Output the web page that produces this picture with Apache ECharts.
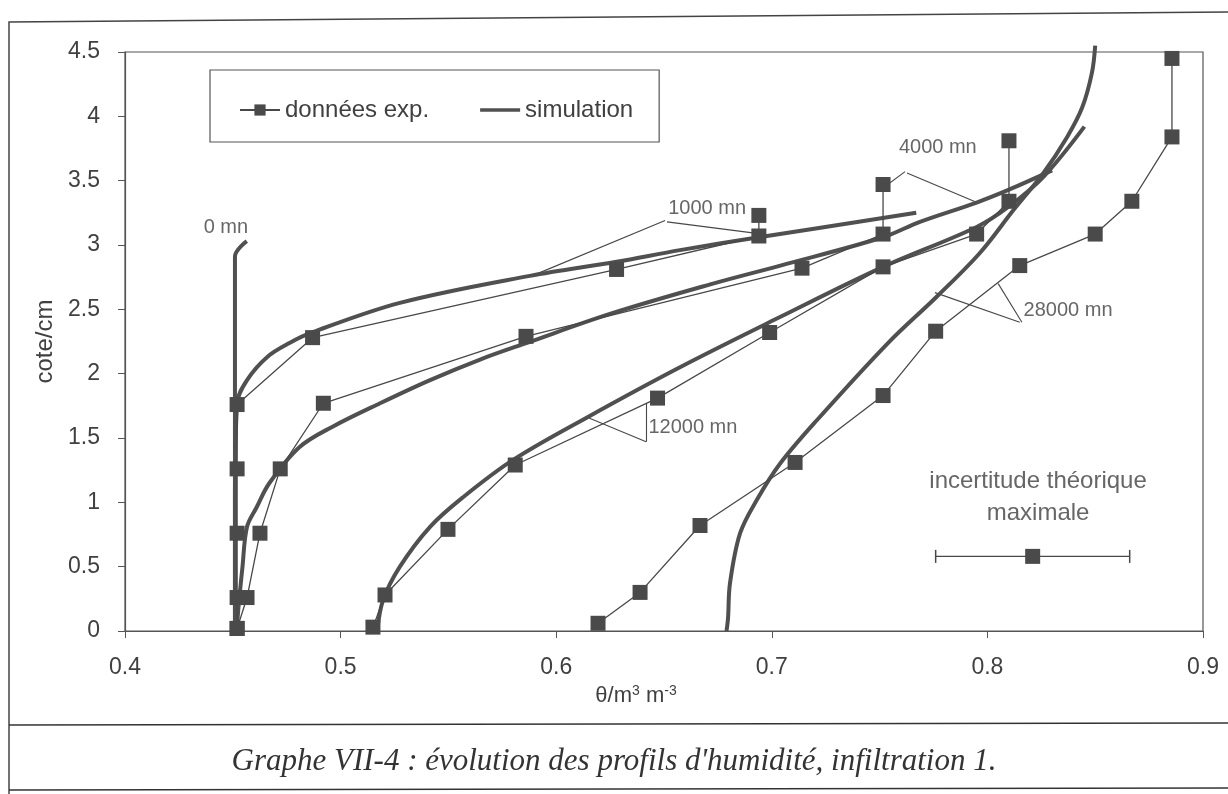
<!DOCTYPE html>
<html>
<head>
<meta charset="utf-8">
<script src="https://cdn.jsdelivr.net/npm/echarts@6/dist/echarts.min.js"></script>
<style>
  html, body { margin: 0; padding: 0; background: #fff; }
  #main { width: 1228px; height: 794px; }
</style>
</head>
<body>
<div id="main"></div>
<script>
// valeurs (theta en m3/m3, cote en cm)
var xTicks = [0.4, 0.5, 0.6, 0.7, 0.8, 0.9];
var yTicks = [0, 0.5, 1, 1.5, 2, 2.5, 3, 3.5, 4, 4.5];

// données expérimentales
var exp1000X = [0.452, 0.452, 0.452, 0.452, 0.452, 0.487, 0.628, 0.694, 0.694];
var exp1000Y = [0.02, 0.26, 0.76, 1.26, 1.76, 2.28, 2.81, 3.07, 3.23];
var exp4000X = [0.452, 0.4566, 0.4626, 0.472, 0.492, 0.586, 0.714, 0.7516, 0.7516];
var exp4000Y = [0.02, 0.26, 0.76, 1.26, 1.77, 2.29, 2.82, 3.085, 3.47];
var exp12000X = [0.515, 0.5206, 0.5498, 0.581, 0.647, 0.699, 0.7516, 0.795, 0.810, 0.810];
var exp12000Y = [0.03, 0.28, 0.79, 1.29, 1.81, 2.32, 2.83, 3.085, 3.34, 3.81];
var exp28000X = [0.6194, 0.6389, 0.6667, 0.7108, 0.7516, 0.776, 0.815, 0.850, 0.867, 0.8856, 0.8856];
var exp28000Y = [0.06, 0.30, 0.82, 1.31, 1.83, 2.33, 2.84, 3.085, 3.34, 3.84, 4.45];

// simulation
var sim0X = [0.451, 0.451, 0.4565];
var sim0Y = [0, 2.91, 3.03];
var sim1000X = [0.451, 0.451, 0.452, 0.4566, 0.466, 0.4765, 0.4867, 0.5275, 0.5878, 0.628, 0.6574, 0.694, 0.767];
var sim1000Y = [0, 1.0, 1.77, 1.95, 2.13, 2.24, 2.32, 2.55, 2.76, 2.87, 2.96, 3.06, 3.25];
var sim4000X = [0.452, 0.4524, 0.4545, 0.4566, 0.461, 0.467, 0.481, 0.4965, 0.5183, 0.5415, 0.5647, 0.5865, 0.626, 0.6727, 0.704, 0.7516, 0.7687, 0.795, 0.81, 0.83];
var sim4000Y = [0, 0.14, 0.5, 0.81, 0.96, 1.15, 1.43, 1.59, 1.77, 1.95, 2.11, 2.24, 2.47, 2.70, 2.84, 3.06, 3.18, 3.33, 3.43, 3.58];
var sim12000X = [0.517, 0.5197, 0.5275, 0.5415, 0.5568, 0.58, 0.6143, 0.6574, 0.7038, 0.7516, 0.795, 0.81, 0.826, 0.845];
var sim12000Y = [0, 0.24, 0.50, 0.81, 1.04, 1.33, 1.66, 2.05, 2.44, 2.83, 3.14, 3.30, 3.53, 3.92];
var sim28000X = [0.679, 0.6797, 0.6806, 0.6853, 0.6931, 0.7038, 0.721, 0.754, 0.7766, 0.7966, 0.812, 0.826, 0.837, 0.844, 0.8485, 0.850];
var sim28000Y = [0, 0.1, 0.37, 0.76, 1.02, 1.30, 1.64, 2.24, 2.6, 2.94, 3.27, 3.56, 3.84, 4.07, 4.34, 4.55];

// incertitude théorique maximale
var errCenter = [0.821, 0.58];
var errHalf = 0.045;

// étiquettes des courbes
var curveLabels = ['0 mn', '1000 mn', '4000 mn', '12000 mn', '28000 mn'];
var labelPos = [[0.4468, 3.14], [0.670, 3.28], [0.777, 3.76], [0.6634, 1.58], [0.8374, 2.49]];
var leaders = [
  [[0.6505, 3.19], [0.5888, 2.76]],
  [[0.6514, 3.18], [0.693, 3.09]],
  [[0.7618, 3.57], [0.753, 3.46]],
  [[0.7627, 3.56], [0.7952, 3.33]],
  [[0.6417, 1.77], [0.6417, 1.47]],
  [[0.6152, 1.655], [0.6417, 1.47]],
  [[0.816, 2.40], [0.805, 2.70]],
  [[0.815, 2.40], [0.7757, 2.63]]
];

function zip(xs, ys) {
  return xs.map(function (x, i) { return [x, ys[i]]; });
}

var grey = '#505050';
var txt = '#404040';
var font = 'Liberation Sans, Arial, sans-serif';

var myChart = echarts.init(document.getElementById('main'));

var series = [];
[[sim0X, sim0Y], [sim1000X, sim1000Y], [sim4000X, sim4000Y], [sim12000X, sim12000Y], [sim28000X, sim28000Y]].forEach(function (s) {
  series.push({
    name: 'simulation', type: 'line', data: zip(s[0], s[1]),
    symbol: 'none', smooth: 0.35, clip: false,
    lineStyle: { color: grey, width: 4 }, itemStyle: { color: grey },
    silent: true, z: 2
  });
});
[[exp1000X, exp1000Y], [exp4000X, exp4000Y], [exp12000X, exp12000Y], [exp28000X, exp28000Y]].forEach(function (s) {
  series.push({
    name: 'données exp.', type: 'line', data: zip(s[0], s[1]),
    symbol: 'rect', symbolSize: 15,
    lineStyle: { color: '#484848', width: 1.3 }, itemStyle: { color: '#4a4a4a' },
    silent: true, z: 3
  });
});
// barre d'erreur
series.push({
  name: 'err', type: 'line',
  data: [[errCenter[0] - errHalf, errCenter[1]], [errCenter[0] + errHalf, errCenter[1]]],
  symbol: 'rect', symbolSize: [1.5, 13],
  lineStyle: { color: '#484848', width: 1.3 }, itemStyle: { color: '#484848' }, silent: true
});
series.push({
  name: 'errpt', type: 'scatter', data: [errCenter],
  symbol: 'rect', symbolSize: 15, itemStyle: { color: '#4a4a4a', opacity: 1 }, silent: true, z: 4
});
// traits de rappel
series.push({
  name: 'leaders', type: 'lines', coordinateSystem: 'cartesian2d',
  data: leaders.map(function (c) { return { coords: c }; }),
  lineStyle: { color: '#484848', width: 1.1, opacity: 1 }, silent: true
});
// étiquettes
series.push({
  name: 'labels', type: 'scatter', symbolSize: 1, silent: true,
  itemStyle: { color: 'rgba(0,0,0,0)' },
  data: curveLabels.map(function (n, i) { return { name: n, value: labelPos[i] }; })
    .concat([{ name: 'incertitude théorique\nmaximale', value: [0.8235, 1.04],
      label: { fontSize: 24, lineHeight: 32 } }]),
  label: { show: true, position: 'inside', formatter: '{b}', color: txt, fontSize: 20, fontFamily: font }
});

var option = {
  backgroundColor: '#fff',
  animation: false,
  grid: { left: 125, top: 52, width: 1078, height: 579, show: true, borderColor: '#555', borderWidth: 1.2 },
  legend: {
    data: [
      { name: 'données exp.' },
      { name: 'simulation', icon: 'path://M0,0 L44,0 L44,4 L0,4 Z', itemStyle: { color: grey } }
    ],
    left: 210, top: 70,
    padding: [28, 26, 20, 29],
    itemWidth: 40, itemHeight: 14, itemGap: 51,
    borderColor: '#555', borderWidth: 1.2,
    selectedMode: false,
    textStyle: { fontSize: 24, color: txt, fontFamily: font }
  },
  xAxis: {
    type: 'value', min: xTicks[0], max: xTicks[xTicks.length - 1], interval: 0.1,
    name: 'θ/m{s|3} m{s|-3}', nameLocation: 'middle', nameGap: 44,
    nameTextStyle: { fontSize: 22, color: txt, fontFamily: font, padding: [0, 56, 0, 0],
      rich: { s: { fontSize: 14, verticalAlign: 'top', padding: [0, 0, 10, 0], color: txt } } },
    axisLine: { lineStyle: { color: '#555', width: 1.2 } },
    axisTick: { length: 7, lineStyle: { color: '#555' } },
    axisLabel: { fontSize: 23, color: txt, fontFamily: font, margin: 25 },
    splitLine: { show: false }
  },
  yAxis: {
    type: 'value', min: yTicks[0], max: yTicks[yTicks.length - 1], interval: 0.5,
    name: 'cote/cm', nameLocation: 'middle', nameGap: 58, nameRotate: 90,
    nameTextStyle: { fontSize: 24, color: txt, fontFamily: font },
    axisLine: { lineStyle: { color: '#555', width: 1.2 } },
    axisTick: { length: 7, lineStyle: { color: '#555' } },
    axisLabel: { fontSize: 23, color: txt, fontFamily: font, margin: 25 },
    splitLine: { show: false }
  },
  graphic: [
    { type: 'polyline', shape: { points: [[9, 794], [9, 22], [1228, 12]] }, style: { stroke: '#444', lineWidth: 1.5, fill: null } },
    { type: 'line', shape: { x1: 9, y1: 725, x2: 1228, y2: 723 }, style: { stroke: '#333', lineWidth: 1.5 } },
    { type: 'line', shape: { x1: 9, y1: 790, x2: 1228, y2: 788 }, style: { stroke: '#333', lineWidth: 1.5 } },
    { type: 'text', left: 'center', top: 746,
      style: { text: "Graphe VII-4 : évolution des profils d'humidité, infiltration 1.",
        font: 'italic 31px "Liberation Serif", "Times New Roman", serif', fill: '#333' } }
  ],
  series: series
};

myChart.setOption(option);
</script>
</body>
</html>
